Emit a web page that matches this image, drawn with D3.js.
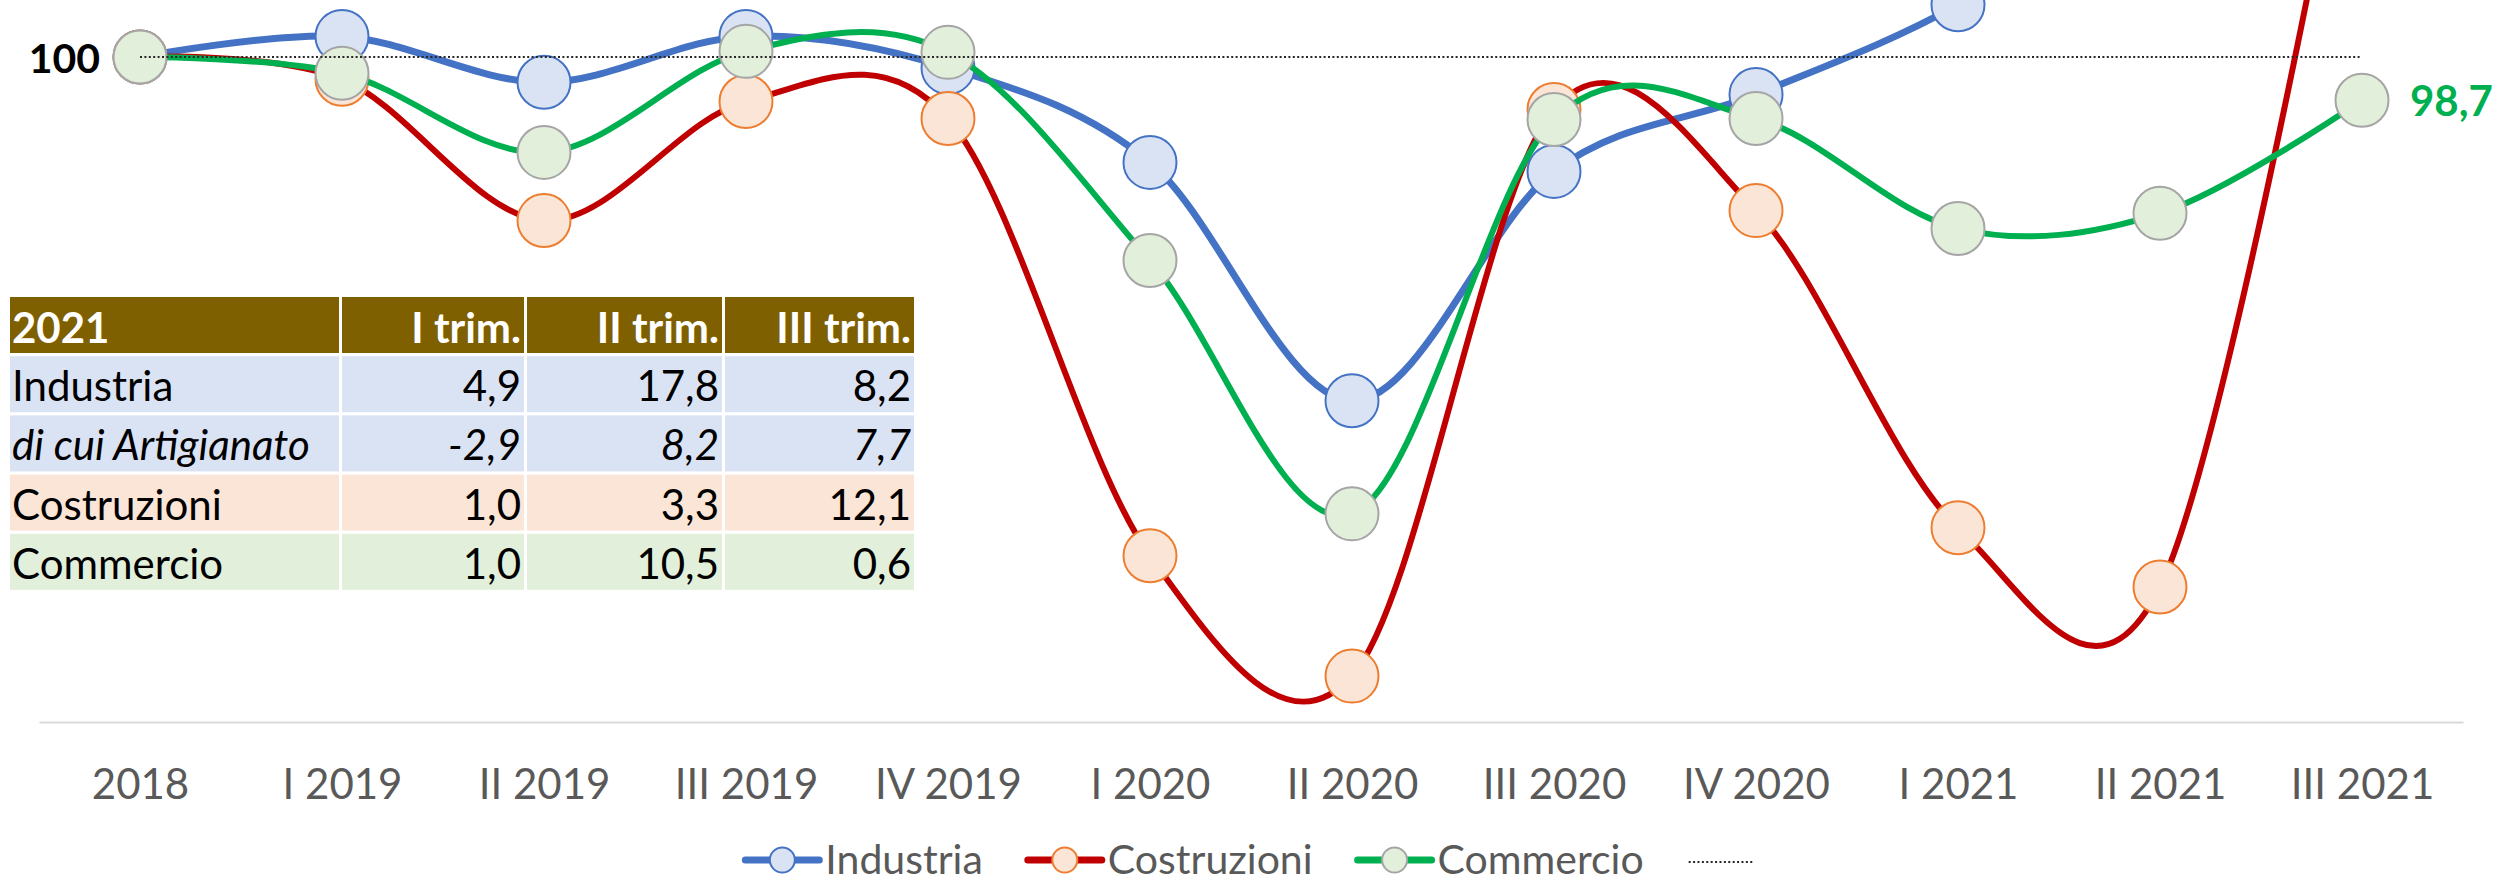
<!DOCTYPE html>
<html>
<head>
<meta charset="utf-8">
<script src="https://cdn.jsdelivr.net/npm/d3@7"></script>
<style>
  body { margin: 0; background: #fff; }
  svg text { font-family: Lato, 'Noto Sans', sans-serif; }
</style>
</head>
<body>
<div id="chart"></div>
<script>
/* ---------- Data ---------- */
const quarters = ["2018", "I 2019", "II 2019", "III 2019", "IV 2019", "I 2020",
                  "II 2020", "III 2020", "IV 2020", "I 2021", "II 2021", "III 2021"];
const industria   = [100, 100.62, 99.24, 100.62, 99.68, 96.83, 89.66, 96.56, 98.87, 101.57, 105.62, 104.48];
const costruzioni = [100, 99.33, 95.08, 98.66, 98.15, 85.0, 81.38, 98.42, 95.38, 85.84, 84.06, 110.33];
const commercio   = [100, 99.51, 97.13, 100.17, 100.14, 93.88, 86.26, 98.12, 98.15, 94.84, 95.3, 98.7];
const riferimento = [100, 100, 100, 100, 100, 100, 100, 100, 100, 100, 100, 100];

const tableHeader = ["2021", "I trim.", "II trim.", "III trim."];
const tableLabels = ["Industria", "di cui Artigianato", "Costruzioni", "Commercio"];
const tabIndustria    = [4.9, 17.8, 8.2];
const tabArtigianato  = [-2.9, 8.2, 7.7];
const tabCostruzioni  = [1.0, 3.3, 12.1];
const tabCommercio    = [1.0, 10.5, 0.6];

/* ---------- Setup ---------- */
const W = 2514, H = 883;
const axisY = 722;

const svg = d3.select("#chart").append("svg")
  .attr("width", W)
  .attr("height", H)
  .attr("viewBox", `0 0 ${W} ${H}`);

const x = d3.scalePoint()
  .domain(quarters)
  .range([39, 2463])
  .padding(0.5);

// plot is cropped at the top: 100 sits at y=57, bottom of axis is 80
const y = d3.scaleLinear()
  .domain([80, 100])
  .range([axisY, 57]);

// italian style number: comma decimal, plain hyphen minus
const itComma = v => d3.format(".1f")(v).replace(".", ",").replace("\u2212", "-");

const series = [
  { name: "Industria",   values: industria,   line: "#4472C4", width: 7, mFill: "#DAE3F3", mStroke: "#4472C4" },
  { name: "Costruzioni", values: costruzioni, line: "#C00000", width: 6, mFill: "#FBE5D6", mStroke: "#ED7D31" },
  { name: "Commercio",   values: commercio,   line: "#00B050", width: 6, mFill: "#E2EFDA", mStroke: "#A5A5A5" }
];

/* ---------- X axis ---------- */
const xAxis = svg.append("g")
  .attr("transform", `translate(0,${axisY})`)
  .call(d3.axisBottom(x).tickSize(0).tickPadding(47));
xAxis.select(".domain").attr("stroke", "#D9D9D9").attr("stroke-width", 2);
xAxis.selectAll("text")
  .attr("fill", "#595959")
  .style("font-size", "42px")
  .style("font-family", "Lato, 'Noto Sans', sans-serif");

/* ---------- Lines + markers ---------- */
const line = d3.line()
  .x((d, i) => x(quarters[i]))
  .y(d => y(d))
  .curve(d3.curveCardinal.tension(0));

series.forEach(s => {
  const g = svg.append("g");
  g.append("path")
    .datum(s.values)
    .attr("fill", "none")
    .attr("stroke", s.line)
    .attr("stroke-width", s.width)
    .attr("stroke-linejoin", "round")
    .attr("d", line);

  g.selectAll("circle")
    .data(s.values)
    .enter().append("circle")
    .attr("cx", (d, i) => x(quarters[i]))
    .attr("cy", d => y(d))
    .attr("r", 26.5)
    .attr("fill", s.mFill)
    .attr("stroke", s.mStroke)
    .attr("stroke-width", 2);
});

// dotted 100 reference, drawn last like the 4th series
svg.append("path")
  .datum(riferimento)
  .attr("fill", "none")
  .attr("stroke", "#262626")
  .attr("stroke-width", 2)
  .attr("stroke-dasharray", "2,2.4")
  .attr("d", d3.line().x((d, i) => x(quarters[i])).y(d => y(d)));

/* ---------- Labels ---------- */
svg.append("text")
  .attr("x", x(quarters[0]) - 40)
  .attr("y", y(100) + 16)
  .attr("text-anchor", "end")
  .style("font-size", "41px")
  .style("font-weight", "700")
  .attr("fill", "#000")
  .text("100");

const last = commercio.length - 1;
svg.append("text")
  .attr("x", x(quarters[last]) + 48)
  .attr("y", y(commercio[last]) + 16)
  .style("font-size", "42px")
  .style("font-weight", "700")
  .attr("fill", "#00B050")
  .text(itComma(commercio[last]));

/* ---------- Table ---------- */
const colEdges = [10, 342, 527, 725];
const colWidths = [329, 182, 195, 189];
const rowTop = 297, rowPitch = 59.2, rowH = 56;
const rowFills = ["#DAE3F3", "#DAE3F3", "#FBE5D6", "#E2EFDA"];
const rowValues = [tabIndustria, tabArtigianato, tabCostruzioni, tabCommercio];

const table = svg.append("g");

// header
tableHeader.forEach((h, c) => {
  table.append("rect")
    .attr("x", colEdges[c]).attr("y", rowTop)
    .attr("width", colWidths[c]).attr("height", rowH)
    .attr("fill", "#7F6000");
  table.append("text")
    .attr("x", c === 0 ? colEdges[c] + 2 : colEdges[c] + colWidths[c] - 3)
    .attr("y", rowTop + rowH - 10)
    .attr("text-anchor", c === 0 ? "start" : "end")
    .style("font-size", "42px")
    .style("font-weight", "700")
    .attr("fill", "#fff")
    .text(h);
});

// body rows
tableLabels.forEach((lab, r) => {
  const top = rowTop + rowPitch * (r + 1);
  colEdges.forEach((cx, c) => {
    table.append("rect")
      .attr("x", cx).attr("y", top)
      .attr("width", colWidths[c]).attr("height", rowH)
      .attr("fill", rowFills[r]);
  });
  table.append("text")
    .attr("x", colEdges[0] + 2)
    .attr("y", top + rowH - 11)
    .style("font-size", "42px")
    .style("font-style", r === 1 ? "italic" : "normal")
    .attr("fill", "#000")
    .text(lab);
  rowValues[r].forEach((v, c) => {
    table.append("text")
      .attr("x", colEdges[c + 1] + colWidths[c + 1] - 3)
      .attr("y", top + rowH - 11)
      .attr("text-anchor", "end")
      .style("font-size", "42px")
      .style("font-style", r === 1 ? "italic" : "normal")
      .attr("fill", "#000")
      .text(itComma(v));
  });
});

/* ---------- Legend ---------- */
const legendY = 860;
const legend = svg.append("g");
let lx = 0;
series.forEach(s => {
  const item = legend.append("g").attr("transform", `translate(${lx},0)`);
  item.append("line")
    .attr("x1", 0).attr("x2", 74)
    .attr("y1", legendY).attr("y2", legendY)
    .attr("stroke", s.line)
    .attr("stroke-width", 7)
    .attr("stroke-linecap", "round");
  item.append("circle")
    .attr("cx", 37).attr("cy", legendY).attr("r", 12.5)
    .attr("fill", s.mFill)
    .attr("stroke", s.mStroke)
    .attr("stroke-width", 2);
  const t = item.append("text")
    .attr("x", 80)
    .attr("y", legendY + 14)
    .style("font-size", "41px")
    .attr("fill", "#595959")
    .text(s.name);
  lx += 80 + t.node().getComputedTextLength() + 45;
});
legend.append("line")
  .attr("x1", lx).attr("x2", lx + 64)
  .attr("y1", legendY + 2).attr("y2", legendY + 2)
  .attr("stroke", "#262626")
  .attr("stroke-width", 2)
  .attr("stroke-dasharray", "2,2.4");
const legendW = lx + 64;
legend.attr("transform", `translate(${1249 - legendW / 2},0)`);
</script>
</body>
</html>
